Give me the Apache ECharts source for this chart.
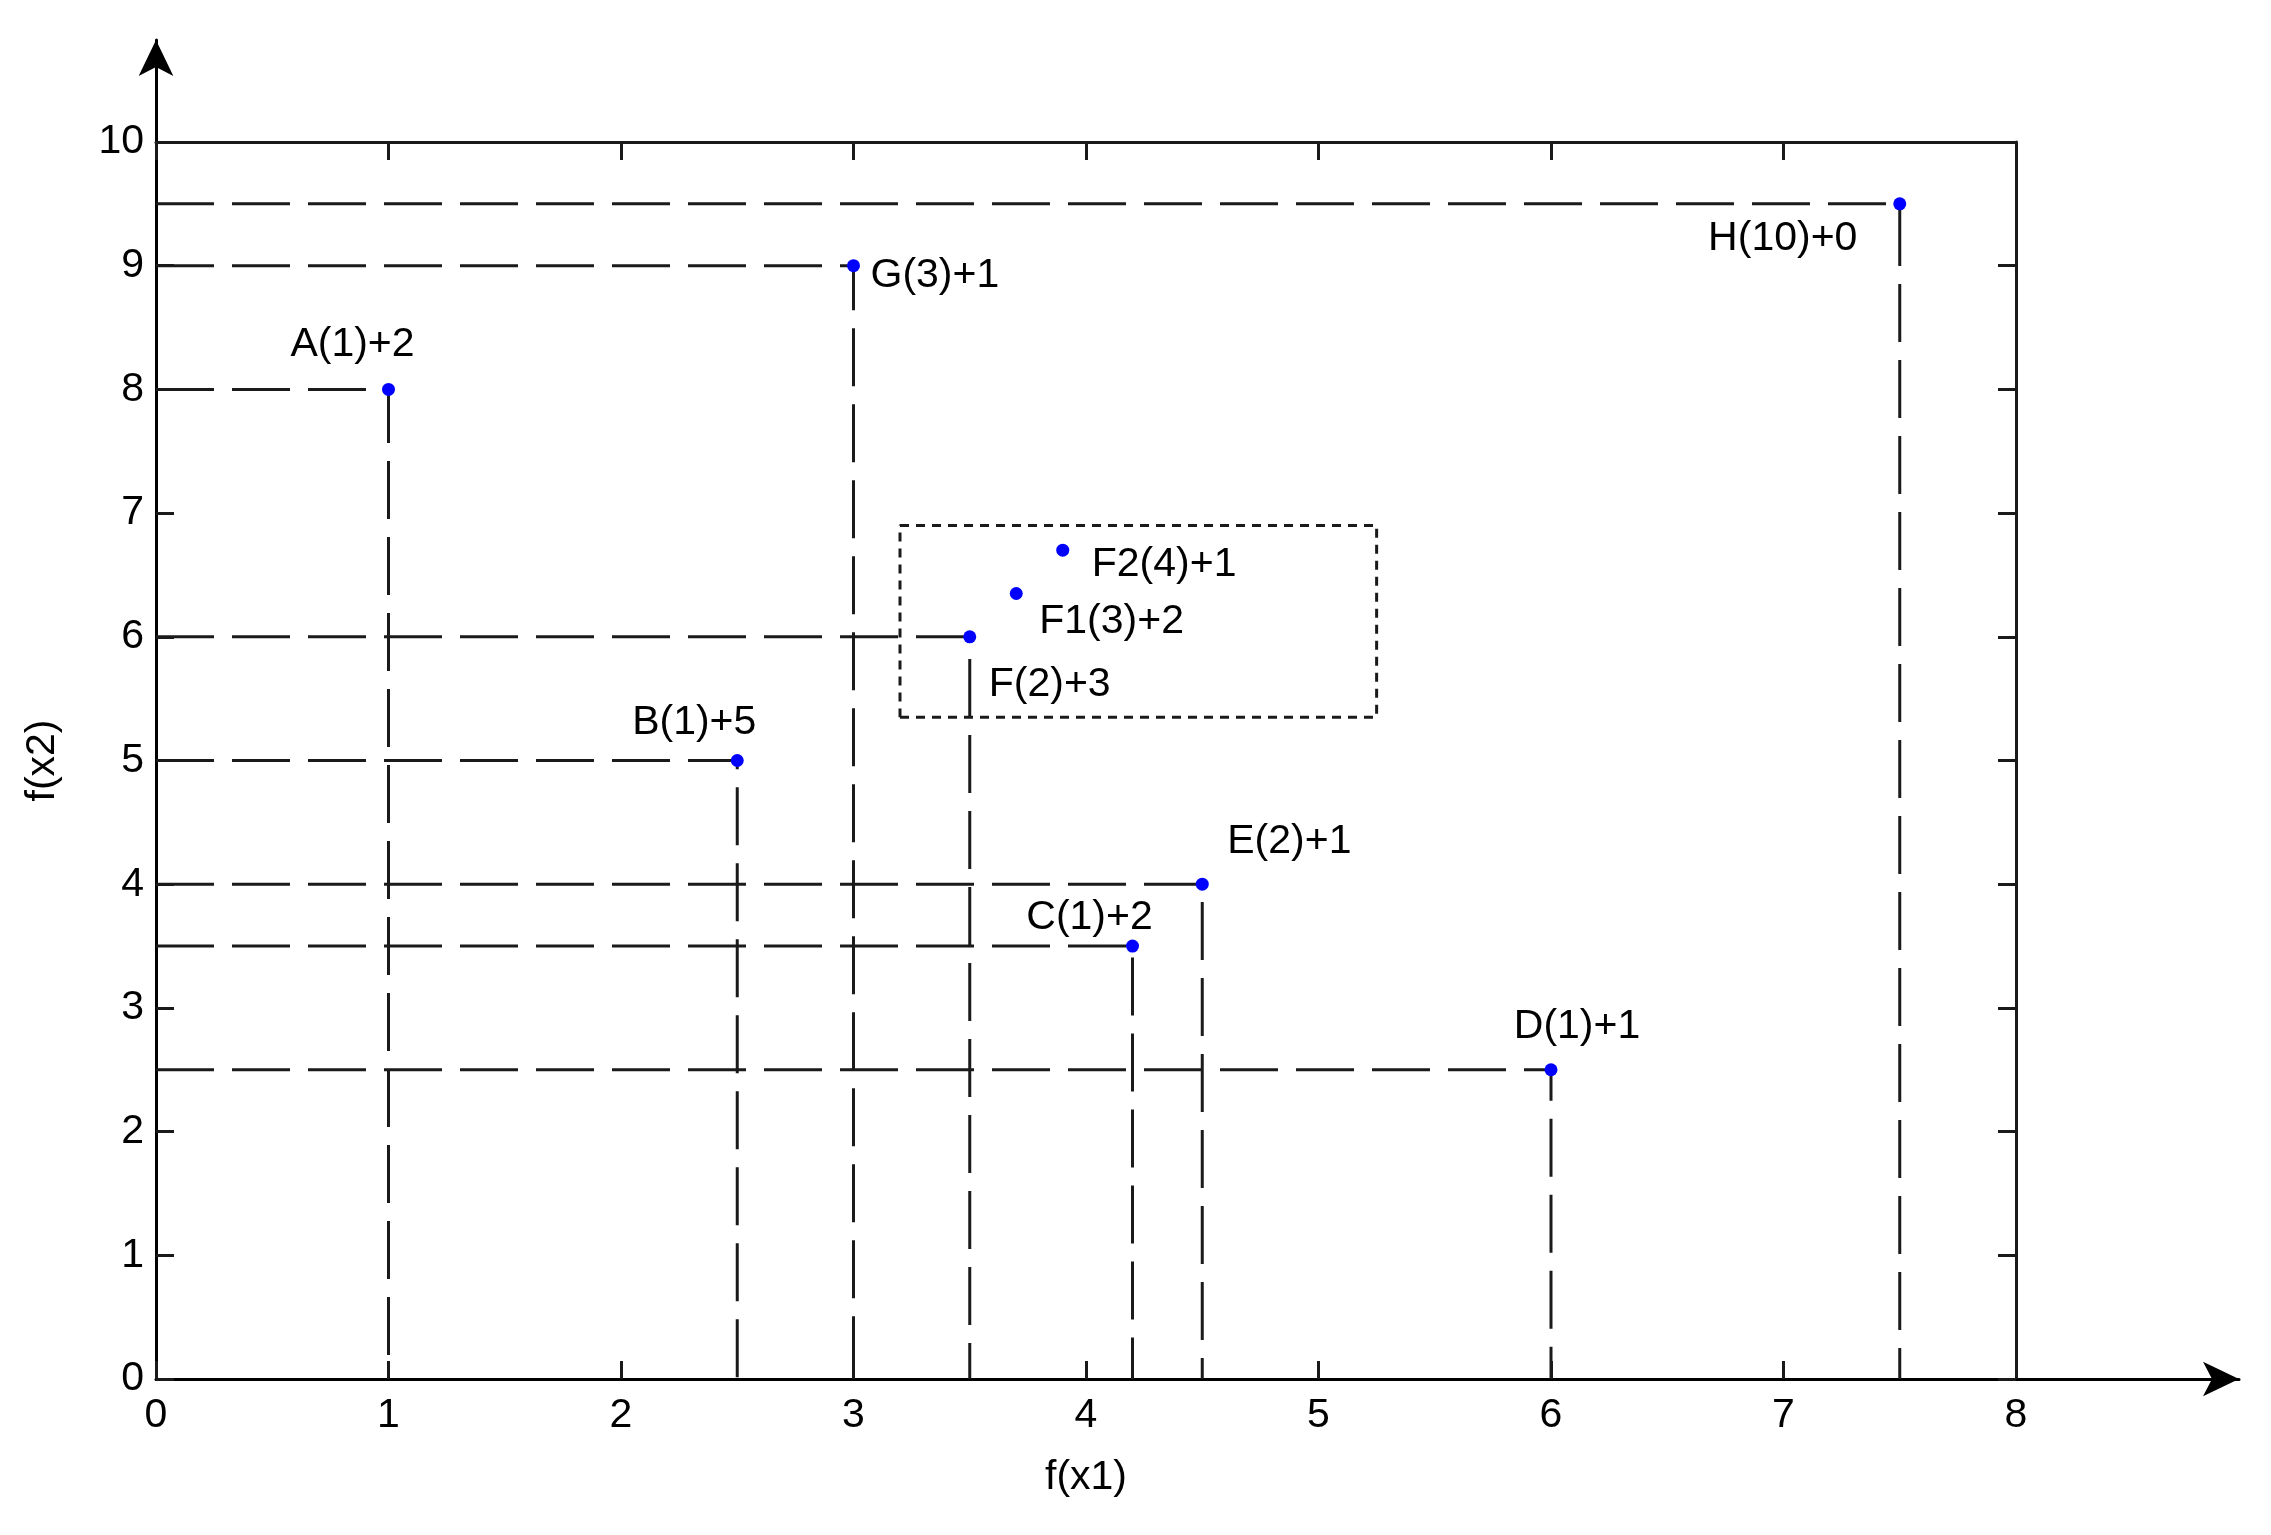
<!DOCTYPE html>
<html>
<head>
<meta charset="utf-8">
<script src="https://cdn.jsdelivr.net/npm/echarts@6/dist/echarts.min.js"></script>
<style>
  html, body { margin: 0; padding: 0; background: #fff; }
  #chart { width: 2271px; height: 1535px; }
</style>
</head>
<body>
<div id="chart"></div>
<script>
// data
const pointNames = ["A(1)+2", "G(3)+1", "H(10)+0", "B(1)+5", "F(2)+3", "F1(3)+2", "F2(4)+1", "E(2)+1", "C(1)+2", "D(1)+1"];
const pointX = [1, 3, 7.5, 2.5, 3.5, 3.7, 3.9, 4.5, 4.2, 6];
const pointY = [8, 9, 9.5, 5, 6, 6.35, 6.7, 4, 3.5, 2.5];
// which points get the dashed projection lines to both axes
const projected = [true, true, true, true, true, false, false, true, true, true];
// dotted box around the F group
const boxX = [3.2, 5.25];
const boxY = [5.35, 6.9];
const xTicks = [0, 1, 2, 3, 4, 5, 6, 7, 8];
const yTicks = [0, 1, 2, 3, 4, 5, 6, 7, 8, 9, 10];

const FONT = "'Liberation Sans', Arial, sans-serif";
const INK = "#000";

// label placement per point (align + offset from the dot)
const labelPlace = {
  "A(1)+2": { align: "center", offset: [-36, -45] },
  "G(3)+1": { align: "left", offset: [17, 10] },
  "H(10)+0": { align: "center", offset: [-117, 35] },
  "B(1)+5": { align: "center", offset: [-43, -38] },
  "F(2)+3": { align: "left", offset: [19, 48] },
  "F1(3)+2": { align: "left", offset: [23, 28] },
  "F2(4)+1": { align: "left", offset: [29, 14] },
  "E(2)+1": { align: "left", offset: [25, -43] },
  "C(1)+2": { align: "center", offset: [-43, -28] },
  "D(1)+1": { align: "center", offset: [26, -43] }
};

const xMin = xTicks[0], xMax = xTicks[xTicks.length - 1];
const yMin = yTicks[0], yMax = yTicks[yTicks.length - 1];

const tickStyle = { show: true, inside: true, length: 18, lineStyle: { color: "#1a1a1a", width: 3 } };

const series = [];

// dashed projection lines
pointNames.forEach((n, i) => {
  if (!projected[i]) return;
  series.push({
    type: "line",
    xAxisIndex: 0,
    yAxisIndex: 0,
    data: [[xMin, pointY[i]], [pointX[i], pointY[i]], [pointX[i], yMin]],
    symbol: "none",
    silent: true,
    z: 2,
    lineStyle: { color: "#1a1a1a", width: 3, type: [58, 18] }
  });
});

// dotted rectangle
series.push({
  type: "line",
  xAxisIndex: 0,
  yAxisIndex: 0,
  data: [
    [boxX[0], boxY[0]], [boxX[1], boxY[0]], [boxX[1], boxY[1]],
    [boxX[0], boxY[1]], [boxX[0], boxY[0]]
  ],
  symbol: "none",
  silent: true,
  z: 2,
  lineStyle: { color: "#1a1a1a", width: 3, type: [9, 7] }
});

// points
series.push({
  type: "scatter",
  xAxisIndex: 0,
  yAxisIndex: 0,
  symbolSize: 13,
  z: 5,
  itemStyle: { color: "#0000ff", opacity: 1 },
  data: pointNames.map((n, i) => ({
    name: n,
    value: [pointX[i], pointY[i]],
    label: {
      show: true,
      formatter: "{b}",
      position: "inside",
      align: labelPlace[n].align,
      verticalAlign: "middle",
      offset: labelPlace[n].offset,
      color: INK,
      opacity: 1,
      fontSize: 41,
      fontFamily: FONT
    }
  }))
});

const option = {
  animation: false,
  backgroundColor: "#fff",
  grid: [
    { left: 156, top: 142, right: 255, bottom: 156 },
    { left: 156, top: 40, right: 32, bottom: 156 }
  ],
  xAxis: [
    {
      gridIndex: 0, type: "value", min: xMin, max: xMax, interval: 1,
      position: "bottom",
      axisLine: { show: false, onZero: false },
      axisTick: tickStyle,
      splitLine: { show: false },
      axisLabel: { color: INK, fontSize: 41, fontFamily: FONT, margin: 16 },
      name: "f(x1)", nameLocation: "middle", nameGap: 78,
      nameTextStyle: { color: INK, fontSize: 41, fontFamily: FONT }
    },
    {
      gridIndex: 0, type: "value", min: xMin, max: xMax, interval: 1,
      position: "top",
      axisLine: { show: true, onZero: false, lineStyle: { color: "#1a1a1a", width: 3 } },
      axisTick: tickStyle,
      splitLine: { show: false },
      axisLabel: { show: false }
    },
    {
      gridIndex: 1, type: "value", min: 0, max: 1,
      axisLine: {
        show: true, onZero: false, symbol: ["none", "arrow"], symbolSize: [26, 36],
        lineStyle: { color: "#000", width: 3 }
      },
      axisTick: { show: false },
      axisLabel: { show: false },
      splitLine: { show: false }
    }
  ],
  yAxis: [
    {
      gridIndex: 0, type: "value", min: yMin, max: yMax, interval: 1,
      position: "left",
      axisLine: { show: false, onZero: false },
      axisTick: tickStyle,
      splitLine: { show: false },
      axisLabel: { color: INK, fontSize: 41, fontFamily: FONT, margin: 12 },
      name: "f(x2)", nameLocation: "middle", nameGap: 93, nameRotate: 90,
      nameTextStyle: { color: INK, fontSize: 41, fontFamily: FONT }
    },
    {
      gridIndex: 0, type: "value", min: yMin, max: yMax, interval: 1,
      position: "right",
      axisLine: { show: true, onZero: false, lineStyle: { color: "#1a1a1a", width: 3 } },
      axisTick: tickStyle,
      splitLine: { show: false },
      axisLabel: { show: false }
    },
    {
      gridIndex: 1, type: "value", min: 0, max: 1,
      axisLine: {
        show: true, onZero: false, symbol: ["none", "arrow"], symbolSize: [26, 36],
        lineStyle: { color: "#000", width: 3 }
      },
      axisTick: { show: false },
      axisLabel: { show: false },
      splitLine: { show: false }
    }
  ],
  series: series
};

const myChart = echarts.init(document.getElementById("chart"));
myChart.setOption(option);
window.addEventListener("resize", () => myChart.resize());
</script>
</body>
</html>
